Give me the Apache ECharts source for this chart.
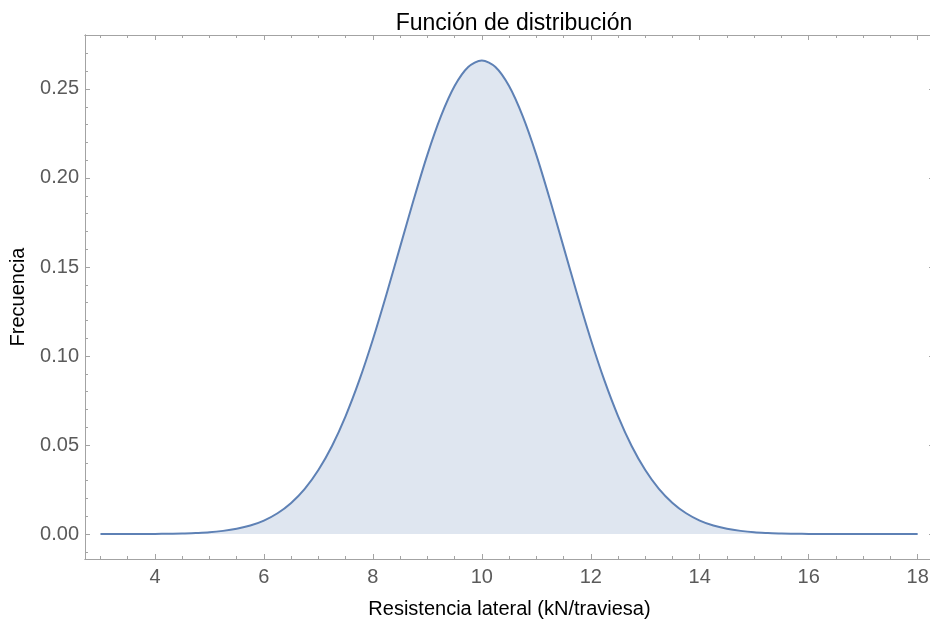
<!DOCTYPE html>
<html>
<head>
<meta charset="utf-8">
<script src="https://cdn.jsdelivr.net/npm/echarts@6/dist/echarts.min.js"></script>
<style>
html,body{margin:0;padding:0;background:#fff;}
#chart{width:930px;height:621px;}
</style>
</head>
<body>
<div id="chart"></div>
<script>
//---------------------------Data---------------------------
//resistance values (kN/traviesa)
let resist = [3, 3.25, 3.5, 3.75, 4, 4.25, 4.5, 4.75, 5, 5.25, 5.5, 5.75, 6, 6.25, 6.5, 6.75,
    7, 7.25, 7.5, 7.75, 8, 8.25, 8.5, 8.75, 9, 9.25, 9.5, 9.75, 10, 10.25, 10.5, 10.75,
    11, 11.25, 11.5, 11.75, 12, 12.25, 12.5, 12.75, 13, 13.25, 13.5, 13.75, 14, 14.25, 14.5, 14.75,
    15, 15.25, 15.5, 15.75, 16, 16.25, 16.5, 16.75, 17, 17.25, 17.5, 17.75, 18];
//frecuencia
let freq = [0.0000, 0.0000, 0.0000, 0.0000, 0.0001, 0.0002, 0.0003, 0.0006, 0.0010, 0.0018, 0.0030, 0.0048,
    0.0076, 0.0117, 0.0175, 0.0254, 0.0360, 0.0495, 0.0663, 0.0863, 0.1093, 0.1347, 0.1613, 0.1879,
    0.2130, 0.2347, 0.2516, 0.2623, 0.2660, 0.2623, 0.2516, 0.2347, 0.2130, 0.1879, 0.1613, 0.1347,
    0.1093, 0.0863, 0.0663, 0.0495, 0.0360, 0.0254, 0.0175, 0.0117, 0.0076, 0.0048, 0.0030, 0.0018,
    0.0010, 0.0006, 0.0003, 0.0002, 0.0001, 0.0000, 0.0000, 0.0000, 0.0000, 0.0000, 0.0000, 0.0000, 0.0000];

//tick values
let xMajor = [4, 6, 8, 10, 12, 14, 16, 18];
let xMinor = [3, 3.5, 4.5, 5, 5.5, 6.5, 7, 7.5, 8.5, 9, 9.5, 10.5, 11, 11.5, 12.5, 13, 13.5, 14.5, 15, 15.5, 16.5, 17, 17.5];
let yMajor = [0, 0.05, 0.10, 0.15, 0.20, 0.25];
let yMinor = [-0.01, 0.01, 0.02, 0.03, 0.04, 0.06, 0.07, 0.08, 0.09, 0.11, 0.12, 0.13, 0.14,
    0.16, 0.17, 0.18, 0.19, 0.21, 0.22, 0.23, 0.24, 0.26, 0.27, 0.28];

//---------------------------UI---------------------------
let chart = echarts.init(document.getElementById('chart'));

let axisColor = '#a3a3a3';
let font = 'Liberation Sans, Arial, sans-serif';

//plot range (right edge of the frame falls just outside the picture)
let xMin = 2.716, xMax = 18.3;
let yMin = -0.014, yMax = 0.2803;

function makeAxis(pos, minV, maxV, ticks, len, showLabel, extra) {
    let axis = {
        type: 'value',
        position: pos,
        min: minV,
        max: maxV,
        splitLine: {show: false},
        axisLine: {show: true, onZero: false, lineStyle: {color: axisColor, width: 1}},
        axisTick: {show: true, inside: true, length: len, customValues: ticks,
            lineStyle: {color: axisColor, width: 1}},
        axisLabel: {show: showLabel, customValues: ticks, color: '#5a5a5a',
            fontFamily: font, fontSize: 20}
    };
    return Object.assign(axis, extra || {});
}

let xAxes = [
    makeAxis('bottom', xMin, xMax, xMajor, 5, true, {
        name: 'Resistencia lateral (kN/traviesa)',
        nameLocation: 'middle',
        nameGap: 40,
        nameTextStyle: {color: '#000', fontFamily: font, fontSize: 20}
    }),
    makeAxis('bottom', xMin, xMax, xMinor, 3, false),
    makeAxis('top', xMin, xMax, xMajor, 5, false),
    makeAxis('top', xMin, xMax, xMinor, 3, false)
];
xAxes[0].axisLabel.margin = 8;
xAxes[0].axisLabel.formatter = function (v) { return String(v); };

let yAxes = [
    makeAxis('left', yMin, yMax, yMajor, 5, true, {
        name: 'Frecuencia',
        nameLocation: 'middle',
        nameGap: 57,
        nameTextStyle: {color: '#000', fontFamily: font, fontSize: 20}
    }),
    makeAxis('left', yMin, yMax, yMinor, 3, false),
    makeAxis('right', yMin, yMax, yMajor, 5, false),
    makeAxis('right', yMin, yMax, yMinor, 3, false)
];
yAxes[0].axisLabel.margin = 6;
yAxes[0].axisLabel.formatter = function (v) { return v.toFixed(2); };

let points = [];
for (let i = 0; i < resist.length; i++) {
    points.push([resist[i], freq[i]]);
}

let option = {
    animation: false,
    backgroundColor: '#fff',
    title: {
        text: 'Función de distribución',
        left: 509,
        textAlign: 'center',
        top: 7,
        textStyle: {color: '#000', fontFamily: font, fontSize: 23, fontWeight: 'normal'}
    },
    grid: {left: 85, top: 35, width: 849, height: 524, containLabel: false, outerBoundsMode: 'none'},
    xAxis: xAxes,
    yAxis: yAxes,
    series: [{
        type: 'line',
        data: points,
        xAxisIndex: 0,
        yAxisIndex: 0,
        smooth: 0.3,
        symbol: 'none',
        lineStyle: {color: '#5E81B5', width: 2},
        areaStyle: {color: '#5E81B5', opacity: 0.2, origin: 0}
    }]
};

chart.setOption(option);
</script>
</body>
</html>
